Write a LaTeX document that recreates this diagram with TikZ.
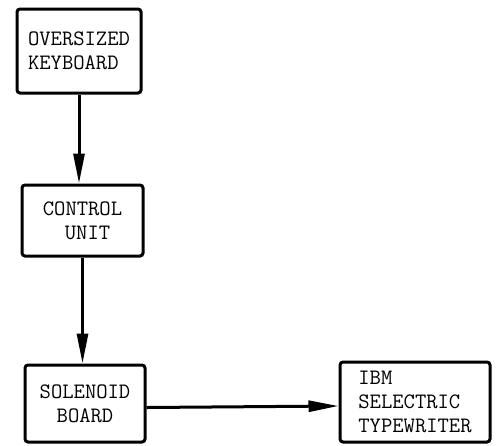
\documentclass[tikz,border=0pt]{standalone}
\usetikzlibrary{arrows.meta}

\begin{document}
\begin{tikzpicture}[
        x=0.5pt, y=-0.5pt,
        font=\ttfamily\fontsize{11}{12}\selectfont,
        % Block-Stile
        unitblock/.style={draw=black, fill=white, line width=1.5pt, rectangle, rounded corners=1.5pt, inner sep=2pt},
        signal/.style={-{Triangle[length=15pt, width=5.5pt]}, line width=1.5pt, draw=black}
    ]
    \useasboundingbox (0,0) rectangle (497,445);

    % ==========================================
    % 1. KNOTEN (BLÖCKE) PLATZIEREN
    % ==========================================

    % Eingang (oben)
    \node[unitblock, minimum width=62pt, minimum height=42pt, align=left] (keyboard) at (79, 51) {OVERSIZED\\KEYBOARD};

    % Steuerung
    \node[unitblock, minimum width=60.5pt, minimum height=35.5pt, align=center] (control) at (82.5, 220.5) {CONTROL\\\hspace{5pt}UNIT};

    % Ausgang (unten)
    \node[unitblock, minimum width=60pt, minimum height=38.5pt, align=center] (solenoid) at (85, 403.5) {SOLENOID\\BOARD};
    \node[unitblock, minimum width=75pt, minimum height=40pt, align=left] (typewriter) at (415, 402) {IBM\\SELECTRIC\\TYPEWRITER};


    % ==========================================
    % 2. VERBINDUNGEN ZIEHEN
    % ==========================================

    \draw[signal] (keyboard.south) -- (keyboard.south |- control.north);
    \draw[signal] (control.south) -- (control.south |- solenoid.north);
    \draw[signal] ([yshift=-2pt]solenoid.east) -- ([yshift=-2pt]typewriter.west);

\end{tikzpicture}
\end{document}
